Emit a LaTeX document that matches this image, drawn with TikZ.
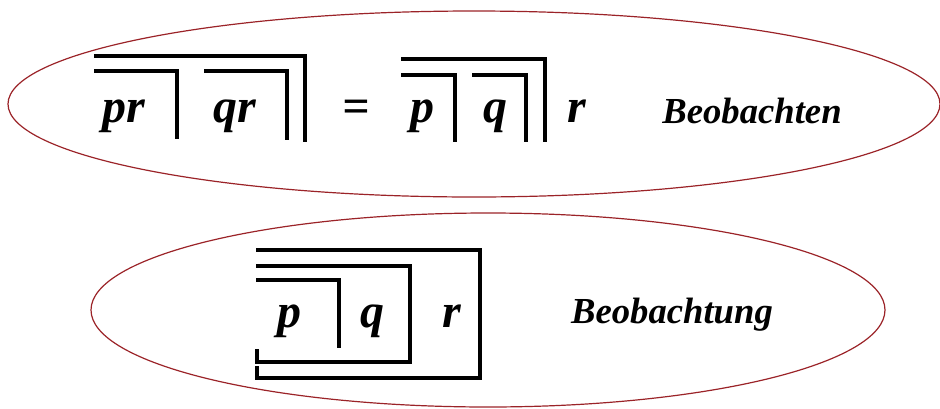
\documentclass[tikz,border=0pt]{standalone}
\usepackage{fontspec}
\setmainfont{Liberation Serif}
\usepackage{tikz}
\definecolor{ovalred}{RGB}{155,35,40}

\begin{document}
\begin{tikzpicture}[
    x=0.75pt, y=-0.75pt,
    oval/.style={draw=ovalred, line width=0.9pt},
    crossline/.style={line width=3pt, line join=miter},
    letter/.style={anchor=base, inner sep=0pt, font=\fontsize{36}{36}\selectfont\bfseries\itshape},
    label/.style={anchor=base, inner sep=0pt, font=\fontsize{27.5}{28}\selectfont\bfseries\itshape}
]
\useasboundingbox (0,0) rectangle (940,408);

% ovals
\draw[oval] (474,104) ellipse [x radius=466, y radius=93];
\draw[oval] (488,310) ellipse [x radius=397, y radius=97];

% upper line
\node[letter] (pr) at (124,122) {pr};
\node[letter] (qr) at (235,122) {qr};
\node[letter] (eq) at (356,122) {=};
\node[letter] (p1) at (422,122) {p};
\node[letter] (q1) at (495,122) {q};
\node[letter] (r1) at (577,122) {r};
\node[label] (lab1) at (752,123) {Beobachten};

\draw[crossline] (94,56) -| (305,142);
\draw[crossline] (94,71) -| (176.5,139);
\draw[crossline] (204,71) -| (286.5,140);

\draw[crossline] (401,59) -| (544.5,142);
\draw[crossline] (401,74.5) -| (454.5,142);
\draw[crossline] (472,74.5) -| (525.5,142);

% lower line
\node[letter] (p2) at (289,327) {p};
\node[letter] (q2) at (372,327) {q};
\node[letter] (r2) at (452,327) {r};
\node[label] (lab2) at (672,323) {Beobachtung};

\draw[crossline] (256,250) -- (480,250) -- (480,378) -- (257,378) -- (257,366);
\draw[crossline] (256,265.5) -- (409.5,265.5) -- (409.5,361.5) -- (257,361.5) -- (257,349);
\draw[crossline] (256,280) -| (338.5,348);
\end{tikzpicture}
\end{document}
